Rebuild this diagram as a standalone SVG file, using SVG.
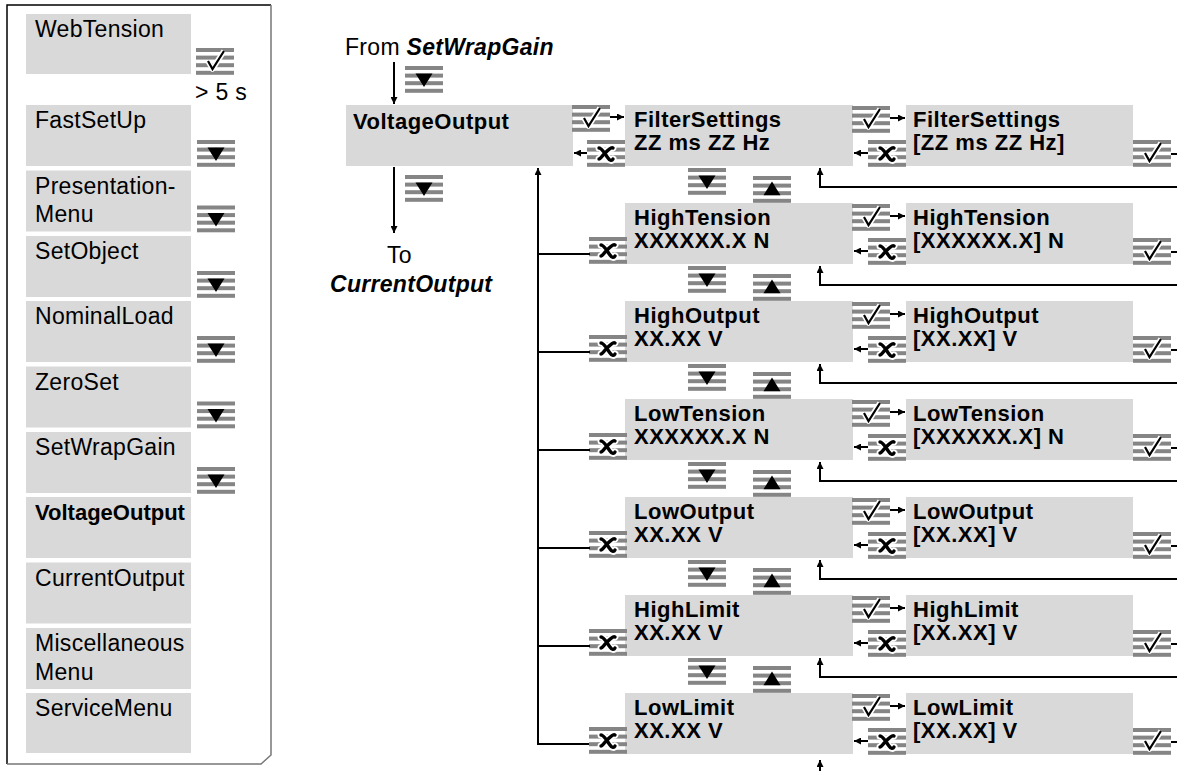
<svg xmlns="http://www.w3.org/2000/svg" xmlns:xlink="http://www.w3.org/1999/xlink" width="1177" height="771" viewBox="0 0 1177 771">
<style>
.box{fill:#d9d9d9}
.t{font-family:"Liberation Sans",Arial,sans-serif;font-size:23px;letter-spacing:0.3px;fill:#000}
.b{font-weight:bold;font-size:22px;letter-spacing:0}
.v{font-family:"Liberation Sans",Arial,sans-serif;font-size:22px;letter-spacing:0.5px;font-weight:bold;fill:#000}
.bi{font-weight:bold;font-style:italic}
.ln{stroke:#000;stroke-width:2;fill:none}
.bar{fill:#858585}
</style>
<defs>
<marker id="ah" viewBox="0 0 10 10" refX="10" refY="5" markerWidth="9" markerHeight="7" markerUnits="userSpaceOnUse" orient="auto"><path d="M0,0 L10,5 L0,10 z" fill="#000"/></marker>
<g id="bars"><rect class="bar" x="0" y="0" width="38" height="4"/><rect class="bar" x="0" y="7.6" width="38" height="4"/><rect class="bar" x="0" y="15.2" width="38" height="4"/><rect class="bar" x="0" y="22.8" width="38" height="4"/></g>
<g id="i-down"><use href="#bars"/><path d="M10.5,7.6 L27.5,7.6 L19,21 Z" fill="#000"/></g>
<g id="i-up"><use href="#bars"/><path d="M19,5.5 L27.5,19.2 L10.5,19.2 Z" fill="#000"/></g>
<g id="i-ok"><use href="#bars"/><path d="M12,13 L16.5,21 L28,3" stroke="#fff" stroke-width="5.5" fill="none" stroke-linejoin="round"/><path d="M12,13 L16.5,21 L28,3" stroke="#000" stroke-width="2.2" fill="none"/></g>
<g id="i-esc"><use href="#bars"/><path d="M12,8 C15,8 18,14 21,18 C23,21 25,21 26,19 M26,8 C24,7 21,10 18,13 C15,16 13,19 12,19" stroke="#fff" stroke-width="7" fill="none" stroke-linecap="round"/><path d="M12,8 C15,8 18,14 21,18 C23,21 25,21 26,19 M26,8 C24,7 21,10 18,13 C15,16 13,19 12,19" stroke="#000" stroke-width="3.4" fill="none" stroke-linecap="round"/></g>
</defs>
<rect width="1177" height="771" fill="#fff"/>

<!-- left panel -->
<g id="panel">
<path d="M7,764 L7,5 L271,5" stroke="#000" stroke-width="1.5" fill="none"/>
<path d="M7,764 L261,764 L271,755 L271,5" stroke="#777" stroke-width="1.5" fill="none"/>
</g>
<g id="m-webtension"><rect class="box" x="26" y="14" width="165" height="60"/><text class="t" x="35" y="37">WebTension</text><use href="#i-ok" x="196" y="48"/><text class="t" x="195" y="100">&gt; 5 s</text></g>
<g id="m-fastsetup"><rect class="box" x="26" y="105" width="165" height="61"/><text class="t" x="35" y="128">FastSetUp</text><use href="#i-down" x="197" y="140"/></g>
<g id="m-presentation"><rect class="box" x="26" y="170.5" width="165" height="61"/><text class="t" x="35" y="193.5">Presentation-</text><text class="t" x="35" y="222">Menu</text><use href="#i-down" x="197" y="205.5"/></g>
<g id="m-setobject"><rect class="box" x="26" y="236" width="165" height="61"/><text class="t" x="35" y="259">SetObject</text><use href="#i-down" x="197" y="271"/></g>
<g id="m-nominalload"><rect class="box" x="26" y="301" width="165" height="61"/><text class="t" x="35" y="324">NominalLoad</text><use href="#i-down" x="197" y="336"/></g>
<g id="m-zeroset"><rect class="box" x="26" y="366.5" width="165" height="61"/><text class="t" x="35" y="389.5">ZeroSet</text><use href="#i-down" x="197" y="401.5"/></g>
<g id="m-setwrapgain"><rect class="box" x="26" y="432" width="165" height="61"/><text class="t" x="35" y="455">SetWrapGain</text><use href="#i-down" x="197" y="467"/></g>
<g id="m-voltageoutput"><rect class="box" x="26" y="497" width="165" height="61"/><text class="t b" x="35" y="520">VoltageOutput</text></g>
<g id="m-currentoutput"><rect class="box" x="26" y="562.5" width="165" height="61"/><text class="t" x="35" y="585.5">CurrentOutput</text></g>
<g id="m-misc"><rect class="box" x="26" y="628" width="165" height="61"/><text class="t" x="35" y="651">Miscellaneous</text><text class="t" x="35" y="680">Menu</text></g>
<g id="m-service"><rect class="box" x="26" y="693" width="165" height="60"/><text class="t" x="35" y="716">ServiceMenu</text></g>

<!-- main column -->
<g id="from"><text class="t" x="345" y="55">From <tspan class="bi">SetWrapGain</tspan></text><use href="#i-down" x="405" y="66"/></g>
<g id="voltage"><rect class="box" x="346" y="105" width="227" height="61"/><text class="v" x="353" y="129">VoltageOutput</text>
<use href="#i-ok" x="572" y="105"/><use href="#i-esc" x="587" y="140"/><use href="#i-down" x="405" y="175"/></g>
<g id="to"><text class="t" x="387" y="263">To</text><text class="t bi" x="330" y="292">CurrentOutput</text></g>

<g id="r0"><rect class="box" x="625" y="105" width="228" height="61"/><text class="v" x="634" y="127">FilterSettings</text><text class="v" x="634" y="150">ZZ ms ZZ Hz</text></g>
<g id="e0"><rect class="box" x="906" y="105" width="227" height="61"/><text class="v" x="913" y="127">FilterSettings</text><text class="v" x="913" y="150">[ZZ ms ZZ Hz]</text></g>
<g id="r1"><rect class="box" x="625" y="203" width="228" height="61"/><text class="v" x="634" y="225">HighTension</text><text class="v" x="634" y="248">XXXXXX.X N</text></g>
<g id="e1"><rect class="box" x="906" y="203" width="227" height="61"/><text class="v" x="913" y="225">HighTension</text><text class="v" x="913" y="248">[XXXXXX.X] N</text></g>
<g id="r2"><rect class="box" x="625" y="301" width="228" height="61"/><text class="v" x="634" y="323">HighOutput</text><text class="v" x="634" y="346">XX.XX V</text></g>
<g id="e2"><rect class="box" x="906" y="301" width="227" height="61"/><text class="v" x="913" y="323">HighOutput</text><text class="v" x="913" y="346">[XX.XX] V</text></g>
<g id="r3"><rect class="box" x="625" y="399" width="228" height="61"/><text class="v" x="634" y="421">LowTension</text><text class="v" x="634" y="444">XXXXXX.X N</text></g>
<g id="e3"><rect class="box" x="906" y="399" width="227" height="61"/><text class="v" x="913" y="421">LowTension</text><text class="v" x="913" y="444">[XXXXXX.X] N</text></g>
<g id="r4"><rect class="box" x="625" y="497" width="228" height="61"/><text class="v" x="634" y="519">LowOutput</text><text class="v" x="634" y="542">XX.XX V</text></g>
<g id="e4"><rect class="box" x="906" y="497" width="227" height="61"/><text class="v" x="913" y="519">LowOutput</text><text class="v" x="913" y="542">[XX.XX] V</text></g>
<g id="r5"><rect class="box" x="625" y="595" width="228" height="61"/><text class="v" x="634" y="617">HighLimit</text><text class="v" x="634" y="640">XX.XX V</text></g>
<g id="e5"><rect class="box" x="906" y="595" width="227" height="61"/><text class="v" x="913" y="617">HighLimit</text><text class="v" x="913" y="640">[XX.XX] V</text></g>
<g id="r6"><rect class="box" x="625" y="693" width="228" height="61"/><text class="v" x="634" y="715">LowLimit</text><text class="v" x="634" y="738">XX.XX V</text></g>
<g id="e6"><rect class="box" x="906" y="693" width="227" height="61"/><text class="v" x="913" y="715">LowLimit</text><text class="v" x="913" y="738">[XX.XX] V</text></g>

<g id="icons">
<use href="#i-ok" x="852" y="106"/><use href="#i-esc" x="868" y="140"/><use href="#i-ok" x="1133" y="140"/><use href="#i-down" x="688" y="168"/><use href="#i-up" x="753" y="176"/>
<use href="#i-ok" x="852" y="204"/><use href="#i-esc" x="868" y="238"/><use href="#i-ok" x="1133" y="238"/><use href="#i-down" x="688" y="266"/><use href="#i-up" x="753" y="274"/><use href="#i-esc" x="589" y="237"/>
<use href="#i-ok" x="852" y="302"/><use href="#i-esc" x="868" y="336"/><use href="#i-ok" x="1133" y="336"/><use href="#i-down" x="688" y="364"/><use href="#i-up" x="753" y="372"/><use href="#i-esc" x="589" y="335"/>
<use href="#i-ok" x="852" y="400"/><use href="#i-esc" x="868" y="434"/><use href="#i-ok" x="1133" y="434"/><use href="#i-down" x="688" y="462"/><use href="#i-up" x="753" y="470"/><use href="#i-esc" x="589" y="433"/>
<use href="#i-ok" x="852" y="498"/><use href="#i-esc" x="868" y="532"/><use href="#i-ok" x="1133" y="532"/><use href="#i-down" x="688" y="560"/><use href="#i-up" x="753" y="568"/><use href="#i-esc" x="589" y="531"/>
<use href="#i-ok" x="852" y="596"/><use href="#i-esc" x="868" y="630"/><use href="#i-ok" x="1133" y="630"/><use href="#i-down" x="688" y="658"/><use href="#i-up" x="753" y="666"/><use href="#i-esc" x="589" y="629"/>
<use href="#i-ok" x="852" y="694"/><use href="#i-esc" x="868" y="728"/><use href="#i-ok" x="1133" y="728"/><use href="#i-esc" x="589" y="727"/>
</g>

<g id="connectors">
<line class="ln" x1="394" y1="62" x2="394" y2="104" marker-end="url(#ah)"/>
<line class="ln" x1="394" y1="167" x2="394" y2="233" marker-end="url(#ah)"/>
<line class="ln" x1="610" y1="117" x2="624" y2="117" marker-end="url(#ah)"/>
<line class="ln" x1="587" y1="153" x2="574" y2="153" marker-end="url(#ah)"/>
<path class="ln" d="M589,744 L538,744 L538,168" marker-end="url(#ah)"/>
<path class="ln" d="M538,254 L590,254 M538,352 L590,352 M538,450 L590,450 M538,548 L590,548 M538,646 L590,646"/>
<line class="ln" x1="890" y1="118" x2="905" y2="118" marker-end="url(#ah)"/>
<line class="ln" x1="868" y1="153" x2="854" y2="153" marker-end="url(#ah)"/>
<line class="ln" x1="890" y1="216" x2="905" y2="216" marker-end="url(#ah)"/>
<line class="ln" x1="868" y1="251" x2="854" y2="251" marker-end="url(#ah)"/>
<line class="ln" x1="890" y1="314" x2="905" y2="314" marker-end="url(#ah)"/>
<line class="ln" x1="868" y1="349" x2="854" y2="349" marker-end="url(#ah)"/>
<line class="ln" x1="890" y1="412" x2="905" y2="412" marker-end="url(#ah)"/>
<line class="ln" x1="868" y1="447" x2="854" y2="447" marker-end="url(#ah)"/>
<line class="ln" x1="890" y1="510" x2="905" y2="510" marker-end="url(#ah)"/>
<line class="ln" x1="868" y1="545" x2="854" y2="545" marker-end="url(#ah)"/>
<line class="ln" x1="890" y1="608" x2="905" y2="608" marker-end="url(#ah)"/>
<line class="ln" x1="868" y1="643" x2="854" y2="643" marker-end="url(#ah)"/>
<line class="ln" x1="890" y1="706" x2="905" y2="706" marker-end="url(#ah)"/>
<line class="ln" x1="868" y1="741" x2="854" y2="741" marker-end="url(#ah)"/>
<path class="ln" d="M1171,154 L1177,154 M1171,252 L1177,252 M1171,350 L1177,350 M1171,448 L1177,448 M1171,546 L1177,546 M1171,644 L1177,644 M1171,742 L1177,742"/>
<path class="ln" d="M1177,187 L820,187 L820,168" marker-end="url(#ah)"/>
<path class="ln" d="M1177,285 L820,285 L820,266" marker-end="url(#ah)"/>
<path class="ln" d="M1177,383 L820,383 L820,364" marker-end="url(#ah)"/>
<path class="ln" d="M1177,481 L820,481 L820,462" marker-end="url(#ah)"/>
<path class="ln" d="M1177,579 L820,579 L820,560" marker-end="url(#ah)"/>
<path class="ln" d="M1177,677 L820,677 L820,658" marker-end="url(#ah)"/>
<line class="ln" x1="820" y1="771" x2="820" y2="760" marker-end="url(#ah)"/>
</g>
</svg>
